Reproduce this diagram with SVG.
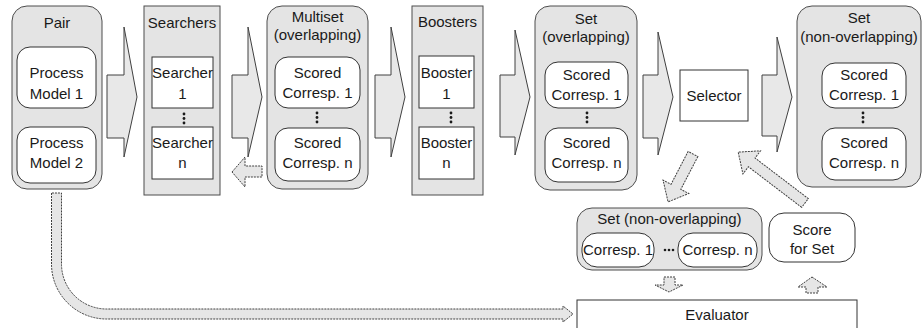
<svg xmlns="http://www.w3.org/2000/svg" width="923" height="328" viewBox="0 0 923 328">
<style>
.cont{fill:#e4e4e4;stroke:#4d4d4d;stroke-width:1}
.inner{fill:#ffffff;stroke:#333333;stroke-width:1}
.big{fill:#e8e8e8;stroke:#404040;stroke-width:1;stroke-linejoin:miter}
.dash{fill:#e6e6e6;stroke:#404040;stroke-width:1;stroke-dasharray:2 1}
text{font-family:"Liberation Sans",Arial,sans-serif;font-size:15px;fill:#1a1a1a;text-anchor:middle}
.dot{fill:#1a1a1a}
</style>
<rect width="923" height="328" fill="#ffffff"/>

<g id="connectors">
  <polygon class="big" points="107,75 124,75 124,27 137,97 124,157 124,138 107,138"/>
  <polygon class="big" points="232,75 248,75 248,27 262,97 248,157 248,138 232,138"/>
  <polygon class="big" points="375,75 391,75 391,27 405,97 391,157 391,138 375,138"/>
  <polygon class="big" points="500,75 515,75 515,30 530,97 515,155 515,137 500,137"/>
  <polygon class="big" points="643,75 658,75 658,32 673,97 658,155 658,138 643,138"/>
  <polygon class="big" points="762,75 777,75 777,37 792,97 777,152 777,136 762,136"/>
  <polygon class="dash" points="232,172 245,157 245,166 262,166 262,177 245,177 245,187"/>
  <polygon class="dash" points="0,-5.5 37,-5.5 37,-14.5 54,0 37,14.5 37,5.5 0,5.5" transform="translate(693,154) rotate(117.5)"/>
  <polygon class="dash" points="0,-5.5 67,-5.5 67,-14.5 84,0 67,14.5 67,5.5 0,5.5" transform="translate(805,203) rotate(-142.7)"/>
  <polygon class="dash" points="664,277 675,277 675,285 683,285 669,292 655,285 664,285"/>
  <polygon class="dash" points="812,277 827,287 818,287 818,293 806,293 806,287 798,287"/>
  <path class="dash" d="M51.5 193 L51.5 264 A55 55 0 0 0 106.5 319 L563 319 L563 322 L573 314 L563 306 L563 309 L106.5 309 A45 45 0 0 1 61.5 264 L61.5 193 Z"/>
</g>

<g id="pair">
  <rect class="cont" x="12" y="6" width="90" height="183" rx="15"/>
  <text x="57" y="28">Pair</text>
  <rect class="inner" x="17" y="47" width="79" height="61" rx="13"/>
  <text x="56.5" y="78">Process</text>
  <text x="56.5" y="99">Model 1</text>
  <rect class="inner" x="17" y="127" width="79" height="56" rx="13"/>
  <text x="56.5" y="148">Process</text>
  <text x="56.5" y="168">Model 2</text>
</g>

<g id="searchers">
  <rect class="cont" x="144" y="6" width="76" height="189"/>
  <text x="182" y="28">Searchers</text>
  <rect class="inner" x="152" y="57" width="61" height="51"/>
  <text x="182.5" y="78">Searcher</text>
  <text x="182.5" y="99">1</text>
  <circle class="dot" cx="184" cy="114" r="1.4"/><circle class="dot" cx="184" cy="118.5" r="1.4"/><circle class="dot" cx="184" cy="123" r="1.4"/>
  <rect class="inner" x="152" y="127" width="61" height="52"/>
  <text x="182.5" y="148">Searcher</text>
  <text x="182.5" y="168">n</text>
</g>

<g id="multiset">
  <rect class="cont" x="267" y="6" width="101" height="183" rx="15"/>
  <text x="317.5" y="22">Multiset</text>
  <text x="317.5" y="40">(overlapping)</text>
  <rect class="inner" x="275" y="57" width="85" height="51" rx="13"/>
  <text x="317.5" y="78">Scored</text>
  <text x="317.5" y="98">Corresp. 1</text>
  <circle class="dot" cx="317" cy="113" r="1.4"/><circle class="dot" cx="317" cy="117.5" r="1.4"/><circle class="dot" cx="317" cy="122" r="1.4"/>
  <rect class="inner" x="275" y="128" width="85" height="53" rx="13"/>
  <text x="317.5" y="148">Scored</text>
  <text x="317.5" y="168">Corresp. n</text>
</g>

<g id="boosters">
  <rect class="cont" x="412" y="6" width="71" height="189"/>
  <text x="447.5" y="27">Boosters</text>
  <rect class="inner" x="419" y="56" width="55" height="52"/>
  <text x="446.5" y="78">Booster</text>
  <text x="446.5" y="99">1</text>
  <circle class="dot" cx="451" cy="113" r="1.4"/><circle class="dot" cx="451" cy="117.5" r="1.4"/><circle class="dot" cx="451" cy="122" r="1.4"/>
  <rect class="inner" x="419" y="127" width="55" height="52"/>
  <text x="446.5" y="148">Booster</text>
  <text x="446.5" y="168">n</text>
</g>

<g id="set-overlapping">
  <rect class="cont" x="535" y="6" width="102" height="184" rx="15"/>
  <text x="586" y="24">Set</text>
  <text x="586" y="42">(overlapping)</text>
  <rect class="inner" x="545" y="62" width="83" height="46" rx="13"/>
  <text x="586.5" y="80">Scored</text>
  <text x="586.5" y="100">Corresp. 1</text>
  <circle class="dot" cx="587" cy="113" r="1.4"/><circle class="dot" cx="587" cy="117.5" r="1.4"/><circle class="dot" cx="587" cy="122" r="1.4"/>
  <rect class="inner" x="545" y="128" width="83" height="54" rx="13"/>
  <text x="586.5" y="148">Scored</text>
  <text x="586.5" y="168">Corresp. n</text>
</g>

<g id="selector">
  <rect class="inner" x="680" y="70" width="68" height="51"/>
  <text x="714" y="101">Selector</text>
</g>

<g id="set-non-overlapping">
  <rect class="cont" x="797" y="6" width="124" height="181" rx="15"/>
  <text x="859" y="23">Set</text>
  <text x="859" y="42">(non-overlapping)</text>
  <rect class="inner" x="822" y="63" width="84" height="45" rx="13"/>
  <text x="864" y="80">Scored</text>
  <text x="864" y="100">Corresp. 1</text>
  <circle class="dot" cx="863" cy="113" r="1.4"/><circle class="dot" cx="863" cy="117.5" r="1.4"/><circle class="dot" cx="863" cy="122" r="1.4"/>
  <rect class="inner" x="822" y="128" width="84" height="52" rx="13"/>
  <text x="864" y="148">Scored</text>
  <text x="864" y="168">Corresp. n</text>
</g>

<g id="set-non-overlapping-2">
  <rect class="cont" x="577" y="208" width="185" height="62" rx="15"/>
  <text x="669.5" y="224">Set (non-overlapping)</text>
  <rect class="inner" x="582" y="233" width="72" height="34" rx="15"/>
  <text x="618" y="255">Corresp. 1</text>
  <circle class="dot" cx="665" cy="250" r="1.3"/><circle class="dot" cx="669" cy="250" r="1.3"/><circle class="dot" cx="673" cy="250" r="1.3"/>
  <rect class="inner" x="678" y="233" width="79" height="34" rx="15"/>
  <text x="717.5" y="255">Corresp. n</text>
</g>

<g id="score">
  <rect class="inner" x="769" y="213" width="86" height="49" rx="15"/>
  <text x="812" y="235">Score</text>
  <text x="812" y="254">for Set</text>
</g>

<g id="evaluator">
  <rect class="inner" x="577" y="300" width="280" height="40"/>
  <text x="717" y="320">Evaluator</text>
</g>
</svg>
